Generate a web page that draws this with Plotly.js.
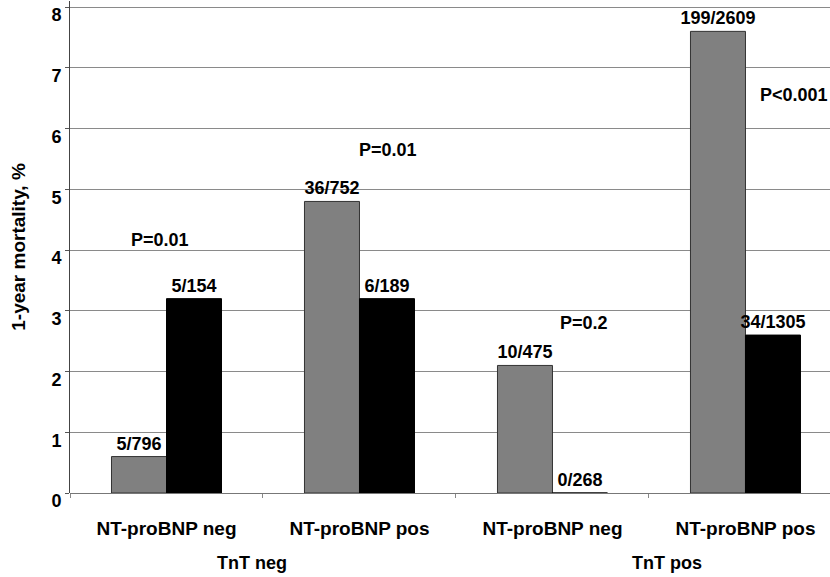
<!DOCTYPE html>
<html>
<head>
<meta charset="utf-8">
<script src="https://cdn.plot.ly/plotly-3.0.1.min.js"></script>
<style>html,body{margin:0;padding:0;background:#fff;}#chart{width:830px;height:577px;}</style>
</head>
<body>
<div id="chart"></div>
<script>
const categories = ["NT-proBNP neg", "NT-proBNP pos", "NT-proBNP neg ", "NT-proBNP pos "];
const tickLabels = ["NT-proBNP neg", "NT-proBNP pos", "NT-proBNP neg", "NT-proBNP pos"];
const grayValues = [0.6, 4.8, 2.1, 7.6];
const grayLabels = ["5/796", "36/752", "10/475", "199/2609"];
const blackValues = [3.2, 3.2, 0, 2.6];
const blackLabels = ["5/154", "6/189", "0/268", "34/1305"];
const groupLabels = ["TnT neg", "TnT pos"];
const pValues = ["P=0.01", "P=0.01", "P=0.2", "P<0.001"];
const yTicks = [0, 1, 2, 3, 4, 5, 6, 7, 8];

const FONT = "Liberation Sans, Arial, Helvetica, sans-serif";
const boldFont = (size) => ({family: FONT, size: size, color: "#000", weight: "bold"});

const traces = [
  {
    type: "bar", x: categories, y: grayValues, text: grayLabels,
    textposition: "outside", cliponaxis: false, constraintext: "none",
    textfont: boldFont(18),
    marker: {color: "#808080", line: {color: "#333", width: 1}},
    hoverinfo: "none"
  },
  {
    type: "bar", x: categories, y: blackValues, text: blackLabels,
    textposition: "outside", cliponaxis: false, constraintext: "none",
    textfont: boldFont(18),
    marker: {color: "#000000", line: {color: "#000", width: 1}},
    hoverinfo: "none"
  }
];

function px(x) { return (x - 70) / 760; }
function py(y) { return (493 - y) / 492; }

const pPos = [[160, 240, "center"], [388, 150, "center"], [584, 323, "center"], [758, 95, "left"]];
const annotations = pValues.map((t, i) => ({
  text: t, xref: "paper", yref: "paper", x: px(pPos[i][0]), y: py(pPos[i][1]),
  xanchor: pPos[i][2], yanchor: "middle", showarrow: false, font: boldFont(18)
}));
const gPos = [252, 667];
groupLabels.forEach((t, i) => annotations.push({
  text: t, xref: "paper", yref: "paper", x: px(gPos[i]), y: py(563),
  xanchor: "center", yanchor: "middle", showarrow: false, font: boldFont(18)
}));

const layout = {
  width: 830, height: 577,
  margin: {l: 70, r: 0, t: 1, b: 84, pad: 0},
  paper_bgcolor: "#fff", plot_bgcolor: "#fff",
  showlegend: false,
  barmode: "group", bargap: 0.43, bargroupgap: 0,
  xaxis: {
    type: "category", range: [-0.5, 3.438],
    tickvals: categories, ticktext: tickLabels,
    tickson: "boundaries", ticks: "outside", ticklen: 4, tickcolor: "#888",
    ticklabelstandoff: 22,
    tickfont: boldFont(19),
    showgrid: false, showline: false, zeroline: false, fixedrange: true
  },
  yaxis: {
    type: "linear", autorange: false, range: [0, 8.1],
    tickmode: "linear", tick0: yTicks[0], dtick: yTicks[1] - yTicks[0],
    ticks: "outside", ticklen: 4, tickcolor: "#555",
    ticklabelshift: 8, ticklabeloverflow: "allow",
    tickfont: boldFont(18),
    showgrid: true, gridcolor: "#8a8a8a", gridwidth: 1,
    zeroline: true, zerolinecolor: "#777", zerolinewidth: 1,
    showline: true, linecolor: "#444", linewidth: 1,
    title: {text: "1-year mortality, %", font: boldFont(19), standoff: 20},
    automargin: false, fixedrange: true
  },
  annotations: annotations
};

Plotly.newPlot("chart", traces, layout, {displayModeBar: false, staticPlot: true});
</script>
</body>
</html>
